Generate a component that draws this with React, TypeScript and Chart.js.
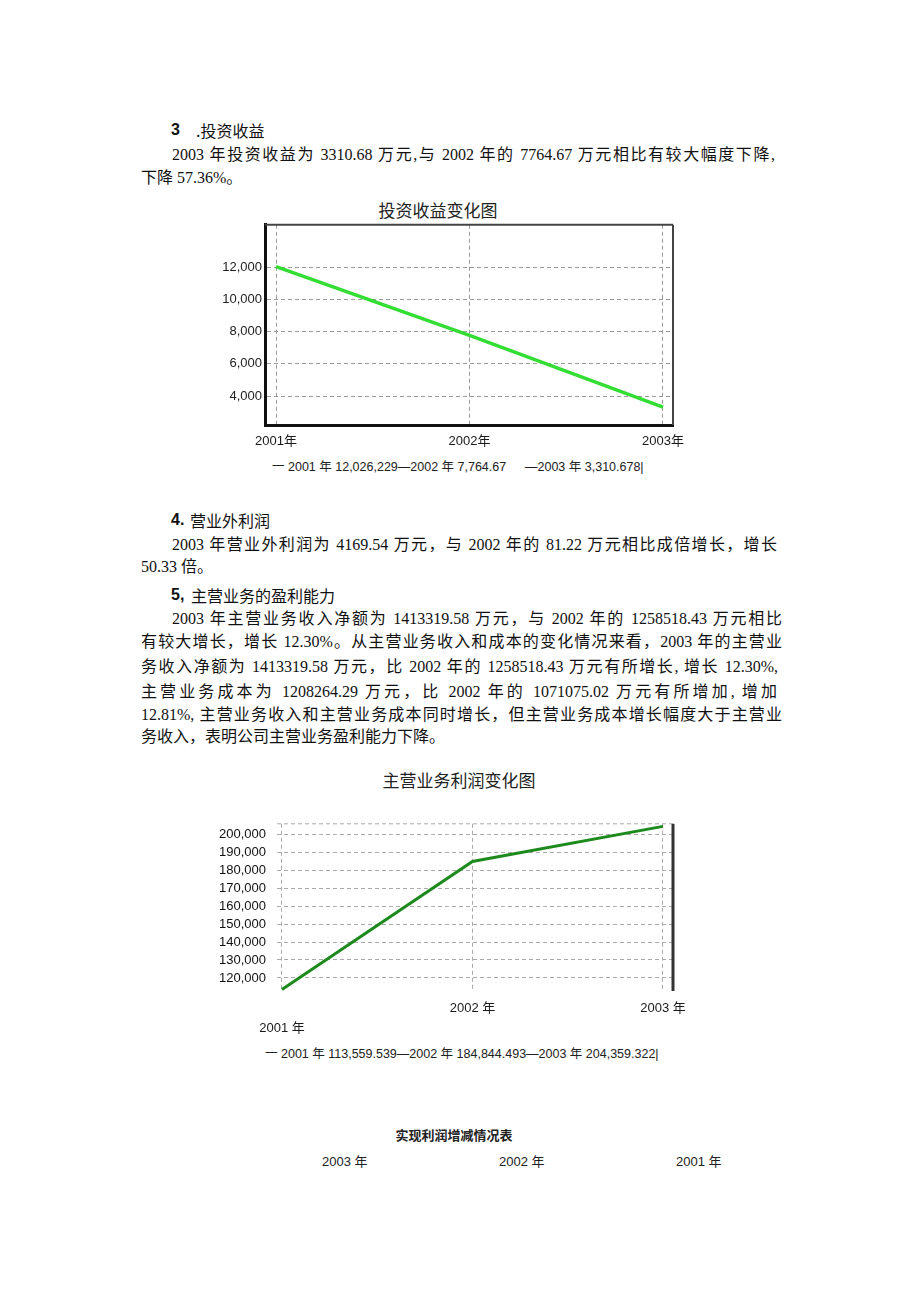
import React, { useEffect, useRef } from 'react';
import { Chart, registerables } from 'chart.js';

Chart.register(...registerables);

// ---- data ----
const years = [2001, 2002, 2003];

const investLabels = ['2001年', '2002年', '2003年'];
const investValues = [12026.229, 7764.67, 3310.678];
const investTicks = [4000, 6000, 8000, 10000, 12000];

const profitLabels = ['2001 年', '2002 年', '2003 年'];
const profitValues = [113559.539, 184844.493, 204359.322];
const profitTicks = [120000, 130000, 140000, 150000, 160000, 170000, 180000, 190000, 200000];

const investCaptionA = '一 2001 年 12,026,229—2002 年 7,764.67';
const investCaptionB = '—2003 年 3,310.678|';
const profitCaption = '一 2001 年 113,559.539—2002 年 184,844.493—2003 年 204,359.322|';

const SANS = '"Liberation Sans", Arial, "Noto Sans CJK SC", sans-serif';
const BODY = '"Liberation Serif", "Noto Sans CJK SC", serif';
const CJK = '"Noto Sans CJK SC", sans-serif';

Chart.defaults.font.family = SANS;
Chart.defaults.color = '#222';

type Side = { side: 'top' | 'right'; color: string; width: number; dash?: number[] };

function makeFrame(sides: Side[]) {
  return {
    id: 'frame',
    afterDatasetsDraw(chart: any) {
      const { ctx, chartArea: a } = chart;
      ctx.save();
      for (const s of sides) {
        ctx.beginPath();
        ctx.strokeStyle = s.color;
        ctx.lineWidth = s.width;
        ctx.setLineDash(s.dash || []);
        if (s.side === 'top') {
          ctx.moveTo(a.left, a.top);
          ctx.lineTo(a.right, a.top);
        } else {
          ctx.moveTo(a.right, a.top);
          ctx.lineTo(a.right, a.bottom);
        }
        ctx.stroke();
      }
      ctx.restore();
    },
  };
}

function InvestChart() {
  const ref = useRef<HTMLCanvasElement | null>(null);
  useEffect(() => {
    if (!ref.current) return;
    const chart = new Chart(ref.current, {
      type: 'line',
      data: {
        datasets: [
          {
            data: years.map((x, i) => ({ x, y: investValues[i] })),
            borderColor: '#33dd33',
            borderWidth: 3.5,
            pointRadius: 0,
            tension: 0,
          },
        ],
      },
      options: {
        animation: false,
        responsive: false,
        events: [],
        layout: { padding: { top: 10, right: 27, left: 0, bottom: 0 } },
        plugins: { legend: { display: false }, tooltip: { enabled: false }, title: { display: false } },
        scales: {
          x: {
            type: 'linear',
            min: 2000.943,
            max: 2003.052,
            afterBuildTicks: (s: any) => {
              s.ticks = years.map((v) => ({ value: v }));
            },
            afterFit: (s: any) => {
              s.height = 30;
            },
            ticks: {
              padding: 9,
              autoSkip: false,
              maxRotation: 0,
              font: { size: 13 },
              color: '#1a1a1a',
              callback: (v: any) => investLabels[years.indexOf(Number(v))] ?? '',
            },
            grid: { color: '#9a9a9a', lineWidth: 1, drawTicks: false },
            border: { display: true, color: '#111', width: 3, dash: [4, 3] },
          },
          y: {
            type: 'linear',
            min: 2207,
            max: 14622,
            afterBuildTicks: (s: any) => {
              s.ticks = investTicks.map((v) => ({ value: v }));
            },
            afterFit: (s: any) => {
              s.width = 65;
            },
            ticks: {
              padding: 3,
              font: { size: 13 },
              color: '#222',
              callback: (v: any) => Number(v).toLocaleString('en-US'),
            },
            grid: { color: '#9a9a9a', lineWidth: 1, drawTicks: false },
            border: { display: true, color: '#111', width: 3, dash: [4, 3] },
          },
        },
      } as any,
      plugins: [
        makeFrame([
          { side: 'top', color: '#444', width: 2 },
          { side: 'right', color: '#444', width: 2 },
        ]),
      ],
    });
    return () => chart.destroy();
  }, []);
  return (
    <canvas
      ref={ref}
      width={500}
      height={241}
      style={{ position: 'absolute', left: 200, top: 214, width: 500, height: 241 }}
    />
  );
}

function ProfitChart() {
  const ref = useRef<HTMLCanvasElement | null>(null);
  useEffect(() => {
    if (!ref.current) return;
    const chart = new Chart(ref.current, {
      type: 'line',
      data: {
        datasets: [
          {
            data: years.map((x, i) => ({ x, y: profitValues[i] })),
            borderColor: '#1d8a1d',
            borderWidth: 3,
            pointRadius: 0,
            tension: 0,
          },
        ],
      },
      options: {
        animation: false,
        responsive: false,
        events: [],
        layout: { padding: { top: 14, right: 27, left: 0, bottom: 0 } },
        plugins: { legend: { display: false }, tooltip: { enabled: false }, title: { display: false } },
        scales: {
          x: {
            type: 'linear',
            min: 2000.974,
            max: 2003.0525,
            afterBuildTicks: (s: any) => {
              s.ticks = years.map((v) => ({ value: v }));
            },
            afterFit: (s: any) => {
              s.height = 49;
            },
            ticks: {
              padding: 7,
              autoSkip: false,
              maxRotation: 0,
              font: { size: 13, lineHeight: 1.55 },
              color: '#1a1a1a',
              callback: (v: any, i: number) => {
                const label = profitLabels[years.indexOf(Number(v))] ?? '';
                return i === 0 ? ['', label] : label;
              },
            },
            grid: { color: '#aaaaaa', lineWidth: 1, drawTicks: false },
            border: { display: false, dash: [4, 3] },
          },
          y: {
            type: 'linear',
            min: 112730,
            max: 205800,
            afterBuildTicks: (s: any) => {
              s.ticks = profitTicks.map((v) => ({ value: v }));
            },
            afterFit: (s: any) => {
              s.width = 77;
            },
            ticks: {
              padding: 11,
              font: { size: 13 },
              color: '#111',
              callback: (v: any) => Number(v).toLocaleString('en-US'),
            },
            grid: { color: '#aaaaaa', lineWidth: 1, drawTicks: false },
            border: { display: false, dash: [4, 3] },
          },
        },
      } as any,
      plugins: [
        makeFrame([
          { side: 'top', color: '#aaaaaa', width: 1, dash: [4, 3] },
          { side: 'right', color: '#333', width: 3 },
        ]),
      ],
    });
    return () => chart.destroy();
  }, []);
  return (
    <canvas
      ref={ref}
      width={500}
      height={235}
      style={{ position: 'absolute', left: 200, top: 805, width: 500, height: 235 }}
    />
  );
}

function Line(props: { x: number; y: number; w?: number; children: React.ReactNode }) {
  const { x, y, w, children } = props;
  const style: React.CSSProperties = {
    position: 'absolute',
    left: x,
    top: y - 12,
    lineHeight: '24px',
    fontSize: 16,
    fontFamily: BODY,
    color: '#111',
  };
  if (w) {
    style.width = w;
    style.textAlign = 'justify';
    (style as any).textAlignLast = 'justify';
  } else {
    style.whiteSpace = 'nowrap';
  }
  return <div style={style}>{children}</div>;
}

function Heading(props: { y: number; num: string; text: string; textX: number }) {
  return (
    <>
      <div
        style={{
          position: 'absolute',
          left: 171,
          top: props.y - 12,
          lineHeight: '24px',
          fontSize: 16,
          fontWeight: 'bold',
          fontFamily: SANS,
          color: '#111',
          whiteSpace: 'nowrap',
        }}
      >
        {props.num}
      </div>
      <div
        style={{
          position: 'absolute',
          left: props.textX,
          top: props.y - 12,
          lineHeight: '24px',
          fontSize: 16,
          fontFamily: CJK,
          color: '#111',
          whiteSpace: 'nowrap',
        }}
      >
        {props.text}
      </div>
    </>
  );
}

function Small(props: { x: number; y: number; size?: number; bold?: boolean; children: React.ReactNode; center?: boolean; w?: number }) {
  const style: React.CSSProperties = {
    position: 'absolute',
    left: props.x,
    top: props.y - 10,
    lineHeight: '20px',
    fontSize: props.size ?? 12.5,
    fontWeight: props.bold ? 'bold' : 'normal',
    fontFamily: SANS,
    color: '#222',
    whiteSpace: 'nowrap',
  };
  if (props.center && props.w) {
    style.width = props.w;
    style.textAlign = 'center';
  }
  return <div style={style}>{props.children}</div>;
}

function Title(props: { cx: number; y: number; text: string }) {
  return (
    <div
      style={{
        position: 'absolute',
        left: props.cx - 150,
        width: 300,
        top: props.y - 12,
        lineHeight: '24px',
        textAlign: 'center',
        fontSize: 17,
        fontFamily: CJK,
        color: '#222',
        whiteSpace: 'nowrap',
      }}
    >
      {props.text}
    </div>
  );
}

export default function App() {
  return (
    <div style={{ position: 'absolute', left: 0, top: 0, width: 920, height: 1301, background: '#fff', overflow: 'hidden' }}>
      {/* Section 3 */}
      <Heading y={130} num="3" text=".投资收益" textX={196} />
      <Line x={172} y={155} w={603}>
        2003 年投资收益为 3310.68 万元,与 2002 年的 7764.67 万元相比有较大幅度下降,
      </Line>
      <Line x={141} y={178}>下降 57.36%。</Line>

      <Title cx={438} y={210} text="投资收益变化图" />
      <InvestChart />
      <Small x={272} y={467}>{investCaptionA}</Small>
      <Small x={525} y={467}>{investCaptionB}</Small>

      {/* Section 4 */}
      <Heading y={520} num="4." text="营业外利润" textX={190} />
      <Line x={172} y={545} w={605}>
        2003 年营业外利润为 4169.54 万元，与 2002 年的 81.22 万元相比成倍增长，增长
      </Line>
      <Line x={141} y={567}>50.33 倍。</Line>

      {/* Section 5 */}
      <Heading y={595} num="5," text="主营业务的盈利能力" textX={191} />
      <Line x={172} y={619} w={610}>
        2003 年主营业务收入净额为 1413319.58 万元，与 2002 年的 1258518.43 万元相比
      </Line>
      <Line x={141} y={642} w={641}>
        有较大增长，增长 12.30%。从主营业务收入和成本的变化情况来看，2003 年的主营业
      </Line>
      <Line x={141} y={667} w={637}>
        务收入净额为 1413319.58 万元，比 2002 年的 1258518.43 万元有所增长, 增长 12.30%,
      </Line>
      <Line x={141} y={692} w={636}>
        主营业务成本为 1208264.29 万元，比 2002 年的 1071075.02 万元有所增加, 增加
      </Line>
      <Line x={141} y={715} w={641}>
        12.81%, 主营业务收入和主营业务成本同时增长，但主营业务成本增长幅度大于主营业
      </Line>
      <Line x={141} y={737}>务收入，表明公司主营业务盈利能力下降。</Line>

      <Title cx={459} y={780} text="主营业务利润变化图" />
      <ProfitChart />
      <Small x={265} y={1054}>{profitCaption}</Small>

      {/* Table heading */}
      <Small x={354} y={1136} size={13} bold center w={200}>
        实现利润增减情况表
      </Small>
      <Small x={322} y={1162} size={13}>2003 年</Small>
      <Small x={499} y={1162} size={13}>2002 年</Small>
      <Small x={676} y={1162} size={13}>2001 年</Small>
    </div>
  );
}
